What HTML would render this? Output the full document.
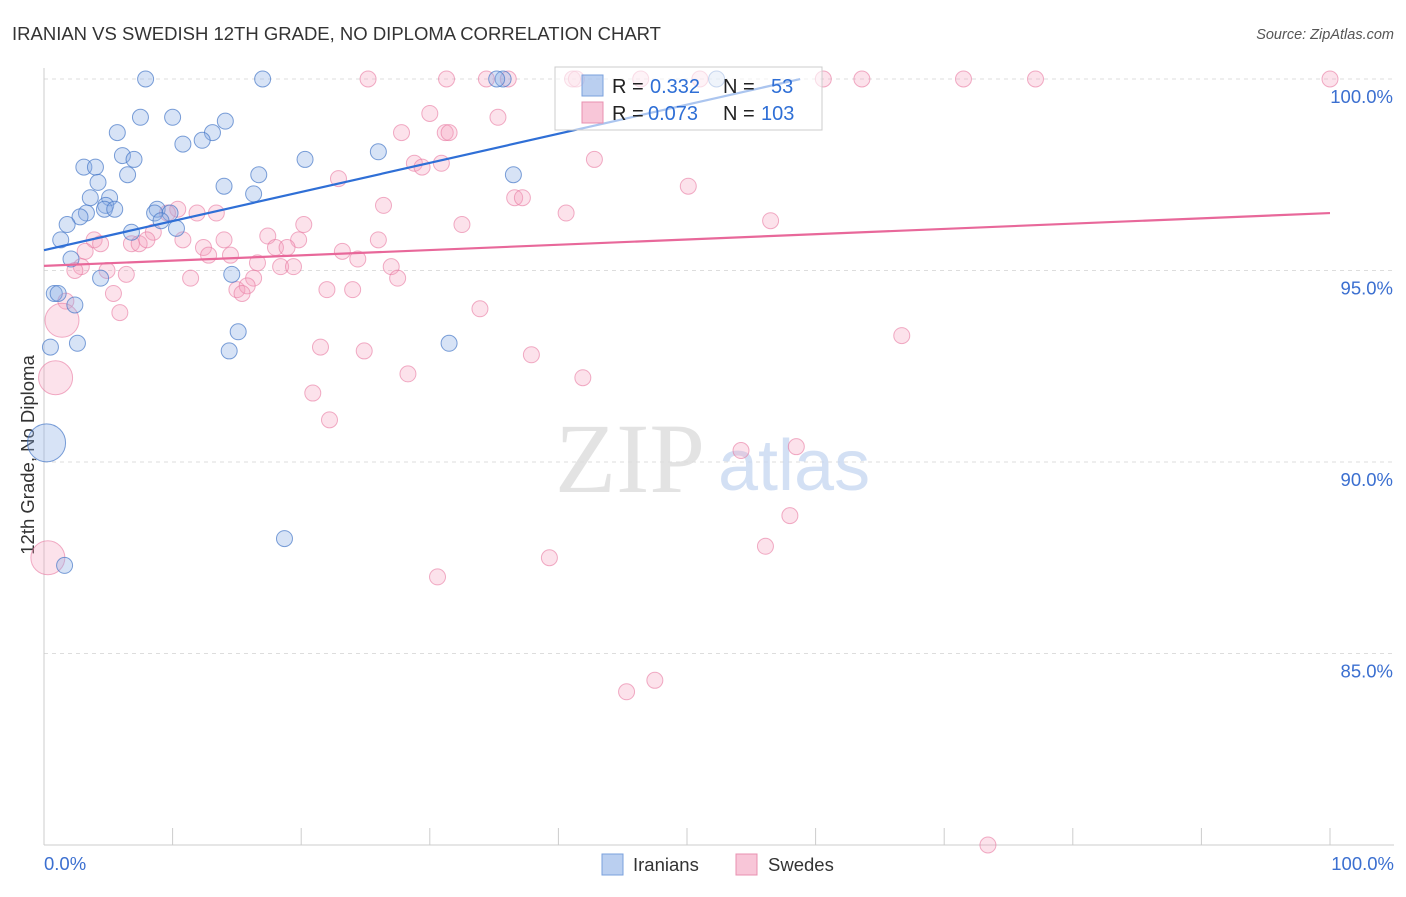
<!DOCTYPE html>
<html><head><meta charset="utf-8"><style>
body{margin:0;background:#fff;font-family:"Liberation Sans",sans-serif}
#wrap{position:relative;width:1406px;height:892px}
</style></head><body>
<div id="wrap">
<svg id="svg" width="1406" height="892"></svg>
</div>
<script>
const blueX=[7.9,17.0,7.5,10.0,14.1,13.1,5.7,12.3,10.8,6.1,7.0,20.3,26.0,3.1,4.0,16.7,6.5,36.5,4.2,14.0,5.1,16.3,3.6,4.8,4.7,5.5,3.3,2.8,8.8,8.6,9.8,9.1,1.8,10.3,6.8,1.3,2.1,4.4,14.6,0.8,1.1,2.4,15.1,0.5,2.6,14.4,31.5,0.2,18.7,1.6,35.7,52.3,35.2];
const blueY=[100,100,99.0,99.0,98.9,98.6,98.6,98.4,98.3,98.0,97.9,97.9,98.1,97.7,97.7,97.5,97.5,97.5,97.3,97.2,96.9,97.0,96.9,96.7,96.6,96.6,96.5,96.4,96.6,96.5,96.5,96.3,96.2,96.1,96.0,95.8,95.3,94.8,94.9,94.4,94.4,94.1,93.4,93.0,93.1,92.9,93.1,90.5,88.0,87.3,100,100,100];
const blueBig=[47];
const pinkX=[25.2,31.3,34.4,36.1,41.1,41.4,46.4,51.0,60.6,63.6,71.5,77.1,100,30.0,35.3,27.8,31.2,31.5,42.8,28.8,29.4,30.9,22.9,50.1,36.6,37.2,26.4,40.6,56.5,32.5,20.2,10.4,11.9,13.4,9.6,8.5,10.8,17.4,19.8,26.0,3.9,4.4,6.8,7.4,8.0,14.0,12.4,18.0,18.9,3.2,12.8,14.5,23.2,24.4,16.6,18.4,19.4,2.9,2.4,4.9,6.4,11.4,16.3,27.0,27.5,15.0,15.8,15.4,22.0,24.0,5.4,1.7,5.9,33.9,1.4,21.5,24.9,37.9,66.7,0.9,28.3,41.9,20.9,22.2,54.2,58.5,58.0,56.1,39.3,30.6,0.3,47.5,45.3,73.4];
const pinkY=[100,100,100,100,100,100,100,100,100,100,100,100,100,99.1,99.0,98.6,98.6,98.6,97.9,97.8,97.7,97.8,97.4,97.2,96.9,96.9,96.7,96.5,96.3,96.2,96.2,96.6,96.5,96.5,96.5,96.0,95.8,95.9,95.8,95.8,95.8,95.7,95.7,95.7,95.8,95.8,95.6,95.6,95.6,95.5,95.4,95.4,95.5,95.3,95.2,95.1,95.1,95.1,95.0,95.0,94.9,94.8,94.8,95.1,94.8,94.5,94.6,94.4,94.5,94.5,94.4,94.2,93.9,94.0,93.7,93.0,92.9,92.8,93.3,92.2,92.3,92.2,91.8,91.1,90.3,90.4,88.6,87.8,87.5,87.0,87.5,84.3,84.0,80.0];
const pinkBig=[74,79,90];
const yTicks=[100,95,90,85];
const yTickLabels=["100.0%","95.0%","90.0%","85.0%"];
const blueLine=[95.53,0.076]; // intercept, slope
const pinkLine=[95.12,0.0138];
const blueLineEnd=58.8;

const NS="http://www.w3.org/2000/svg";
const svg=document.getElementById('svg');
const X=v=>44+v*12.86;
const Y=v=>79+(100-v)*38.3;
function el(t,a,p){const e=document.createElementNS(NS,t);for(const k in a)e.setAttribute(k,a[k]);(p||svg).appendChild(e);return e;}
function txt(x,y,s,a){const e=el('text',Object.assign({x:x,y:y},a));e.textContent=s;return e;}

let t=txt(12,40,"IRANIAN VS SWEDISH 12TH GRADE, NO DIPLOMA CORRELATION CHART",{'font-size':18.5,fill:'#333'});

t=txt(1394,39,"Source: ZipAtlas.com",{'font-size':14.5,fill:'#555','font-style':'italic','text-anchor':'end'});


yTicks.forEach((v,i)=>{
 const g=el('line',{x1:44,x2:1394,y1:Y(v),y2:Y(v),stroke:'#ddd','stroke-dasharray':'4,4'});
 
 const l=txt(1393,Y(v)+24,yTickLabels[i],{'font-size':18.5,fill:'#3b6fd0','text-anchor':'end'});
 
});
let a=el('line',{x1:44,x2:44,y1:68,y2:845,stroke:'#ccc'});
a=el('line',{x1:44,x2:1394,y1:845,y2:845,stroke:'#ccc'});
for(let i=0;i<=10;i++){const tk=el('line',{x1:X(i*10),x2:X(i*10),y1:828,y2:845,stroke:'#ccc'});}
t=txt(44,870,"0.0%",{'font-size':18.5,fill:'#3b6fd0'});
t=txt(1394,870,"100.0%",{'font-size':18.5,fill:'#3b6fd0','text-anchor':'end'});
t=txt(34,455,"12th Grade, No Diploma",{'font-size':18.5,fill:'#333','text-anchor':'middle',transform:'rotate(-90 34 455)'});

t=txt(555,492,"ZIP",{'font-size':100,fill:'#ddd','font-family':'Liberation Serif',opacity:0.8});
t=txt(718,490,"atlas",{'font-size':72,fill:'#c9d9f2',opacity:0.8});

pinkX.forEach((x,i)=>{const big=pinkBig.includes(i);const c=el('circle',{cx:X(x),cy:Y(pinkY[i]),r:big?17:8,fill:'rgba(244,160,190,0.3)',stroke:'rgba(232,120,160,0.6)','stroke-width':1});
 });
blueX.forEach((x,i)=>{const big=blueBig.includes(i);const c=el('circle',{cx:X(x),cy:Y(blueY[i]),r:big?19:8,fill:'rgba(140,175,230,0.35)',stroke:'rgba(70,120,200,0.7)','stroke-width':1});
 });

let ln=el('line',{x1:X(0),y1:Y(pinkLine[0]),x2:X(100),y2:Y(pinkLine[0]+pinkLine[1]*100),stroke:'#e8689a','stroke-width':2.2});

ln=el('line',{x1:X(0),y1:Y(blueLine[0]),x2:X(blueLineEnd),y2:Y(blueLine[0]+blueLine[1]*blueLineEnd),stroke:'#2f6fd6','stroke-width':2.2});


const lg=el('g',{});
el('rect',{x:555,y:67,width:267,height:63,fill:'rgba(255,255,255,0.6)',stroke:'#ccc'},lg);
el('rect',{x:582,y:75,width:21,height:21,fill:'rgba(140,175,230,0.6)',stroke:'#7aa0dd'},lg);
el('rect',{x:582,y:102,width:21,height:21,fill:'rgba(244,160,190,0.6)',stroke:'#e890b0'},lg);
txt(612,93,"R = ",{'font-size':20,fill:'#222'},lg);txt(650,93,"0.332",{'font-size':20,fill:'#2f6fd6'},lg);
txt(723,93,"N = ",{'font-size':20,fill:'#222'},lg);txt(771,93,"53",{'font-size':20,fill:'#2f6fd6'},lg);
txt(612,120,"R = ",{'font-size':20,fill:'#222'},lg);txt(648,120,"0.073",{'font-size':20,fill:'#2f6fd6'},lg);
txt(723,120,"N = ",{'font-size':20,fill:'#222'},lg);txt(761,120,"103",{'font-size':20,fill:'#2f6fd6'},lg);

const b1=el('g',{});
el('rect',{x:602,y:854,width:21,height:21,fill:'rgba(140,175,230,0.6)',stroke:'#7aa0dd'},b1);
txt(633,871,"Iranians",{'font-size':18.5,fill:'#333'},b1);
const b2=el('g',{});
el('rect',{x:736,y:854,width:21,height:21,fill:'rgba(244,160,190,0.6)',stroke:'#e890b0'},b2);
txt(768,871,"Swedes",{'font-size':18.5,fill:'#333'},b2);
</script>
</body></html>
